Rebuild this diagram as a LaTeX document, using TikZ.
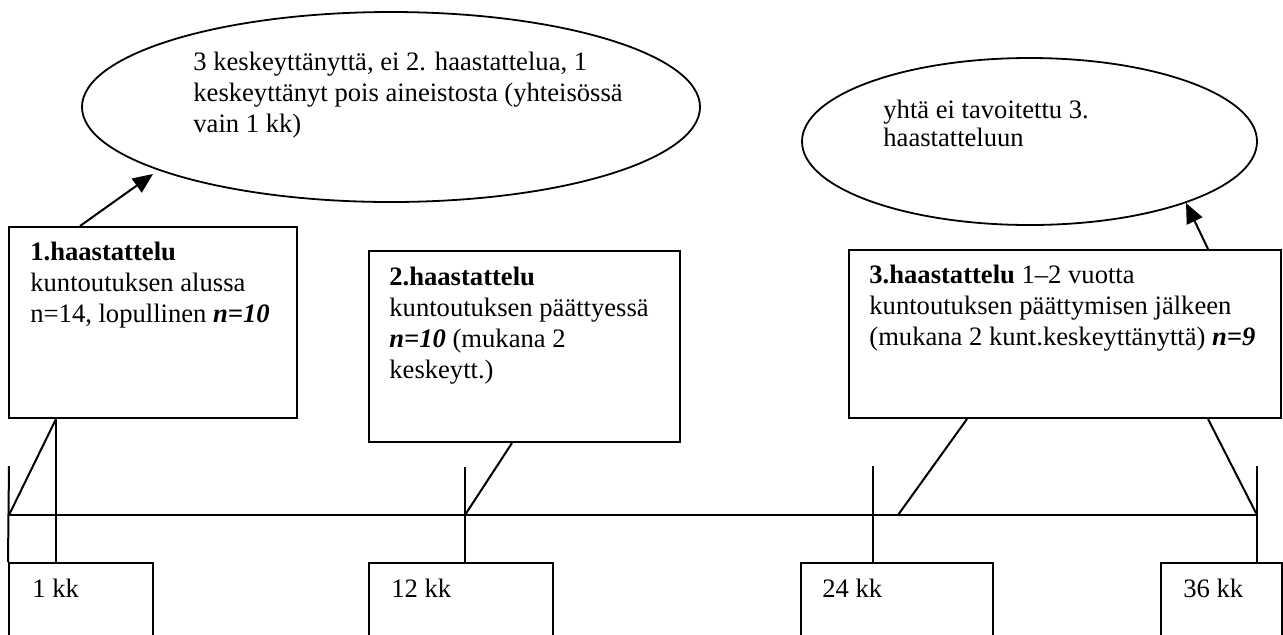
\documentclass[tikz,border=0pt]{standalone}
\usepackage{fontspec}
\setmainfont{Liberation Serif}
\usetikzlibrary{arrows.meta,fit,calc,shapes.geometric}

\begin{document}
\begin{tikzpicture}[x=0.5pt,y=-0.5pt,
  frame/.style={draw, line width=1pt, inner sep=0pt},
  cloud/.style={draw, ellipse, line width=0.9pt, inner sep=0pt},
  txt/.style={font=\fontsize{13.3}{15.5}\selectfont, inner sep=0pt, anchor=north west, align=left},
  txtb/.style={font=\fontsize{13.3}{13}\selectfont, inner sep=0pt, anchor=north west, align=left},
  link/.style={line width=1pt},
  pointer/.style={line width=1pt, -{Triangle[length=10pt,width=8.5pt]}}]

\useasboundingbox (0,0) rectangle (1283,634);
\clip (0,0) rectangle (1283,634);

% notes above the timeline
\node[cloud, minimum width=309pt, minimum height=95pt] (e1) at (391,107) {};
\node[txt] (e1t) at (193,48.3) {\strut 3 keskeyttänyttä, ei 2. haastattelua, 1\\keskeyttänyt pois aineistosta (yhteisössä\\vain 1 kk)};
\node[cloud, minimum width=227.5pt, minimum height=83.5pt] (e2) at (1029.5,141.5) {};
\node[txtb] (e2t) at (883,99.8) {\strut yhtä ei tavoitettu 3.\\haastatteluun};

% interview boxes
\node[frame, fit={(9,227) (297,418)}] (b1) {};
\node[txt] (b1t) at (30,238.3) {\strut\textbf{1.haastattelu}\\kuntoutuksen alussa\\n=14, lopullinen \textbf{\textit{n=10}}};
\node[frame, fit={(369,251) (680,442)}] (b2) {};
\node[txt] (b2t) at (389,263.3) {\strut\textbf{2.haastattelu}\\kuntoutuksen päättyessä\\\textbf{\textit{n=10}} (mukana 2\\keskeytt.)};
\node[frame, fit={(849,250) (1281,418)}] (b3) {};
\node[txt] (b3t) at (869,261.3) {\strut\textbf{3.haastattelu} 1–2 vuotta\\kuntoutuksen päättymisen jälkeen\\(mukana 2 kunt.keskeyttänyttä) \textbf{\textit{n=9}}};

% month boxes
\node[frame, fit={(9,563) (153,640)}] (k1) {};
\node[txt] at (32,575.3) {\strut 1 kk};
\node[frame, fit={(369,563) (553,640)}] (k12) {};
\node[txt] at (391,575.3) {\strut 12 kk};
\node[frame, fit={(801,563) (993,640)}] (k24) {};
\node[txt] at (822,575.3) {\strut 24 kk};
\node[frame, fit={(1161,563) (1282,640)}] (k36) {};
\node[txt] at (1183,575.3) {\strut 36 kk};

% timeline points
\coordinate (t0) at (9,515);
\coordinate (t12) at (465,515);
\coordinate (t24) at (873,515);
\coordinate (t36) at (1257,515);
\coordinate (u0) at (9,466);
\coordinate (u12) at (465,467);
\coordinate (u24) at (873,466);
\coordinate (u36) at (1257,466);
\coordinate (m3) at (898,515);

% anchor points on the boxes
\coordinate (p1) at ($(b1.south west)+(48,0)$);
\coordinate (p2) at ($(b2.south west)+(144,0)$);
\coordinate (p3a) at ($(b3.south west)+(119,0)$);
\coordinate (p3b) at ($(b3.south west)+(360,0)$);
\coordinate (q1) at ($(b1.north west)+(72,0)$);
\coordinate (q3) at ($(b3.north west)+(360,0)$);
\coordinate (tip1) at (153,174);
\coordinate (tip2) at (1186,203);

% timeline and ticks
\draw[link] (t0) -- (t36);
\draw[link] (u0) -- (k1.north west);
\draw[link] (u12) -- (u12 |- k12.north);
\draw[link] (u24) -- (u24 |- k24.north);
\draw[link] (u36) -- (u36 |- k36.north);

% links from boxes to the timeline
\draw[link] (p1) -- (p1 |- k1.north);
\draw[link] (t0) -- (p1);
\draw[link] (t12) -- (p2);
\draw[link] (m3) -- (p3a);
\draw[link] (t36) -- (p3b);

% arrows to the notes
\draw[pointer] (q1) -- (tip1);
\draw[pointer] (q3) -- (tip2);
\end{tikzpicture}
\end{document}
